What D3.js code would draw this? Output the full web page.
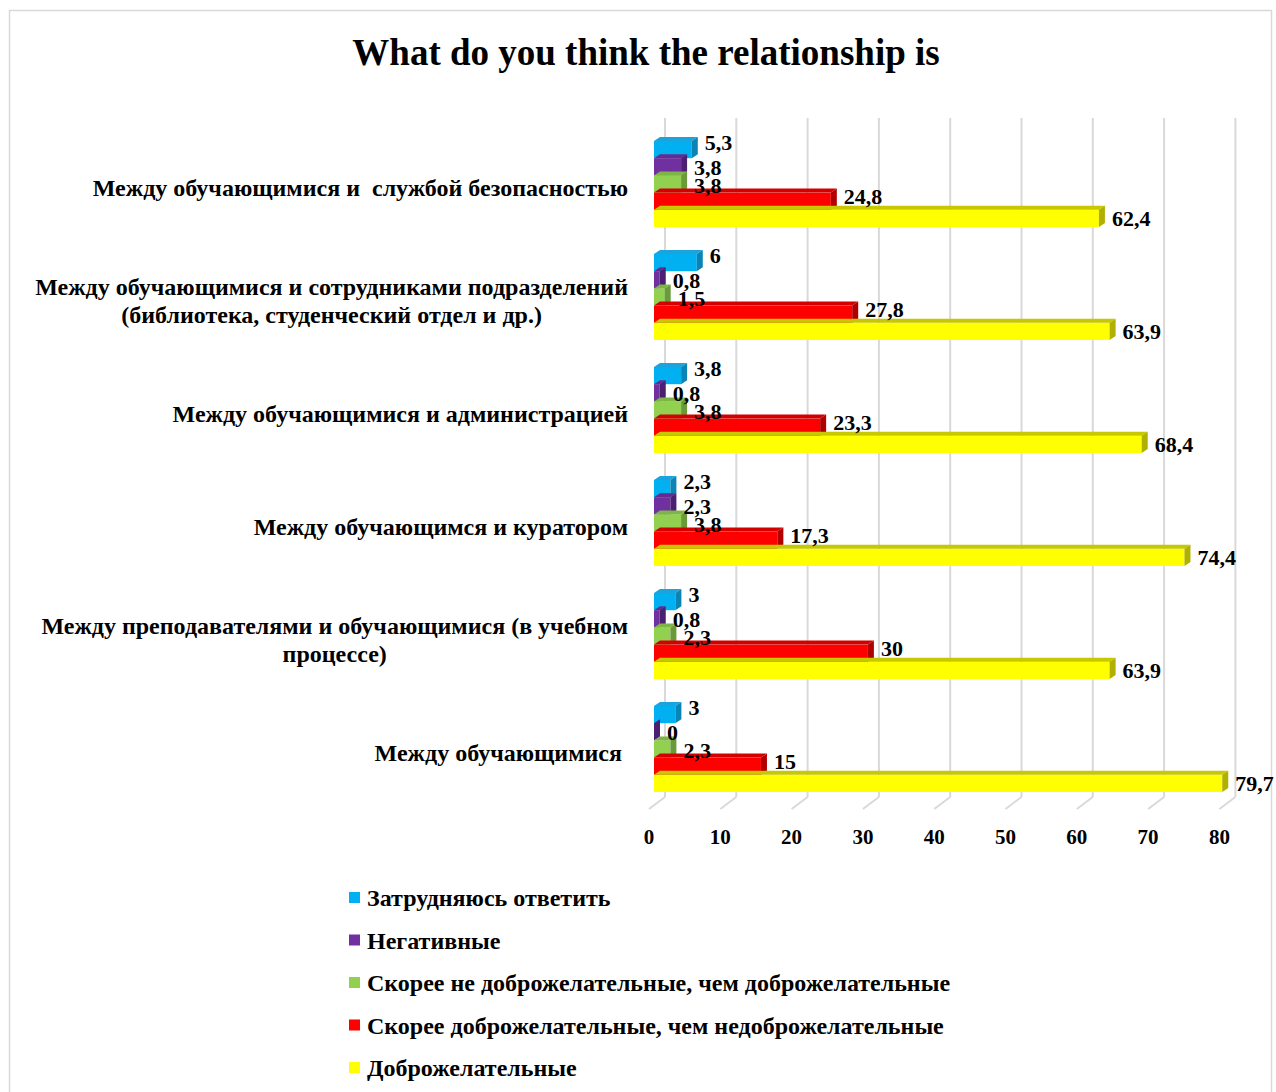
<!DOCTYPE html>
<html><head><meta charset="utf-8">
<script src="https://cdn.jsdelivr.net/npm/d3@7/dist/d3.min.js"></script>
<style>
html,body{margin:0;padding:0;background:#fff;}
svg text{font-family:"Liberation Serif","Times New Roman",serif;font-weight:bold;fill:#000;}
</style></head>
<body><svg id="chart" width="1276" height="1092"></svg>
<script>
const title = "What do you think the relationship is";
const categories = [
  "Между обучающимися и  службой безопасностью",
  "Между обучающимися и сотрудниками подразделений\n(библиотека, студенческий отдел и др.)",
  "Между обучающимися и администрацией",
  "Между обучающимся и куратором",
  "Между преподавателями и обучающимися (в учебном\nпроцессе)",
  "Между обучающимися "
];
const seriesNames = [
  "Затрудняюсь ответить",
  "Негативные",
  "Скорее не доброжелательные, чем доброжелательные",
  "Скорее доброжелательные, чем недоброжелательные",
  "Доброжелательные"
];
const difficult        = [5.3, 6, 3.8, 2.3, 3, 3];
const negative         = [3.8, 0.8, 0.8, 2.3, 0.8, 0];
const ratherUnfriendly = [3.8, 1.5, 3.8, 3.8, 2.3, 2.3];
const ratherFriendly   = [24.8, 27.8, 23.3, 17.3, 30, 15];
const friendly         = [62.4, 63.9, 68.4, 74.4, 63.9, 79.7];
const tickValues = [0, 10, 20, 30, 40, 50, 60, 70, 80];

const seriesValues = [difficult, negative, ratherUnfriendly, ratherFriendly, friendly];
const colors = [
  {front:"#00B0F0", top:"#1AA3DC", side:"#0A84B4"},
  {front:"#7030A0", top:"#652B91", side:"#4C2070"},
  {front:"#92D050", top:"#7DB644", side:"#6A9A3A"},
  {front:"#FF0000", top:"#D40000", side:"#B00000"},
  {front:"#FFFF00", top:"#C8C800", side:"#B0B000"}
];
const labelDy = [-8, 0, 1, -5, 0];

const svg = d3.select("#chart");

svg.append("rect").attr("x",9.5).attr("y",10.5).attr("width",1262).attr("height",1100)
  .attr("fill","none").attr("stroke","#d9d9d9").attr("stroke-width",1.5);

svg.append("text").attr("x",646).attr("y",65).attr("text-anchor","middle")
  .style("font-size","37px").text(title);

const x = d3.scaleLinear().domain([0,80]).range([649, 1219.4]);
const y = d3.scaleBand().domain(d3.range(categories.length)).range([127.5, 805.5]).padding(0);
const ys = d3.scaleBand().domain(d3.range(seriesNames.length)).range([-43, 43]);
const depthX = 16;
const barOff = 5;
const bdx = 6, bdy = -4;
const wallTop = 118, floorBack = 797, floorFront = 809;

const g = svg.append("g");
g.selectAll("line.grid").data(tickValues).join("line").attr("class","grid")
  .attr("x1",d=>x(d)+depthX).attr("x2",d=>x(d)+depthX)
  .attr("y1",wallTop).attr("y2",floorBack)
  .attr("stroke","#d9d9d9").attr("stroke-width",2);
g.selectAll("line.floor").data(tickValues).join("line").attr("class","floor")
  .attr("x1",d=>x(d)).attr("x2",d=>x(d)+depthX)
  .attr("y1",floorFront).attr("y2",floorBack)
  .attr("stroke","#d9d9d9").attr("stroke-width",2);
g.selectAll("text.tick").data(tickValues).join("text").attr("class","tick")
  .attr("x",d=>x(d)).attr("y",844).attr("text-anchor","middle")
  .style("font-size","21px").text(d=>d);

const x0 = x(0) + barOff;
const bars = svg.append("g");
categories.forEach((c, ci) => {
  const cy = y(ci) + y.bandwidth()/2;
  seriesValues.forEach((vals, si) => {
    const v = vals[ci];
    const top = cy + ys(si);
    const h = ys.bandwidth();
    const x1 = x0 + (x(v) - x(0));
    const col = colors[si];
    const bg = bars.append("g");
    bg.append("rect").attr("x",x0).attr("y",top).attr("width",Math.max(0,x1-x0)).attr("height",h).attr("fill",col.front);
    bg.append("polygon").attr("points",[[x0,top],[x1,top],[x1+bdx,top+bdy],[x0+bdx,top+bdy]].map(p=>p.join(",")).join(" ")).attr("fill",col.top);
    bg.append("polygon").attr("points",[[x1,top],[x1+bdx,top+bdy],[x1+bdx,top+h+bdy],[x1,top+h]].map(p=>p.join(",")).join(" ")).attr("fill",col.side);
  });
});
const labels = svg.append("g");
categories.forEach((c, ci) => {
  const cy = y(ci) + y.bandwidth()/2;
  seriesValues.forEach((vals, si) => {
    const v = vals[ci];
    const top = cy + ys(si);
    const x1 = x0 + (x(v) - x(0));
    labels.append("text").attr("x",x1+bdx+7).attr("y",top+ys.bandwidth()/2+labelDy[si]+8)
      .style("font-size","22px").text(String(v).replace(".",","));
  });
});

const cat = svg.append("g");
categories.forEach((c, ci) => {
  const cy = y(ci) + y.bandwidth()/2;
  const lines = c.split("\n");
  const t = cat.append("text").style("font-size","24px").style("white-space","pre");
  const lh = 28;
  const startY = cy + 12 - (lines.length-1)*lh/2;
  const spans = lines.map((ln,i)=> t.append("tspan").attr("y",startY+i*lh).text(ln));
  const widths = spans.map(s=>s.node().getComputedTextLength());
  const maxW = d3.max(widths);
  const rightX = 628;
  spans.forEach((s,i)=>{
    s.attr("x", rightX - maxW/2).attr("text-anchor","middle");
  });
  if (lines.length===1) { spans[0].attr("x", rightX).attr("text-anchor","end"); }
});

const leg = svg.append("g");
seriesNames.forEach((n, i) => {
  const ly = 898 + i*42.5;
  leg.append("rect").attr("x",349).attr("y",ly-6).attr("width",11).attr("height",11).attr("fill",colors[i].front);
  leg.append("text").attr("x",367).attr("y",ly+8).style("font-size","24px").text(n);
});
</script></body></html>
